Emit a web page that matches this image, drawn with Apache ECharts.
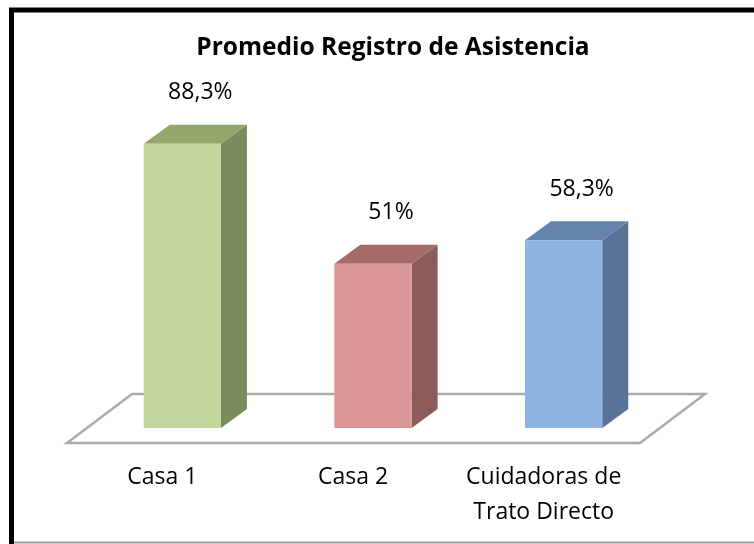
<!DOCTYPE html>
<html>
<head>
<meta charset="utf-8">
<script src="https://cdn.jsdelivr.net/npm/echarts@6/dist/echarts.min.js"></script>
<style>
html, body { margin: 0; padding: 0; background: #fff; }
#chart { width: 754px; height: 544px; }
</style>
</head>
<body>
<div id="chart"></div>
<script>
// datos del grafico
var categorias = ['Casa 1', 'Casa 2', 'Cuidadoras de\nTrato Directo'];
var valores = [88.3, 51, 58.3];
var etiquetas = ['88,3%', '51%', '58,3%'];

var frente = ['#c3d69b', '#d99694', '#8db4e2'];
var lado = ['#7b8b5c', '#8c5c5b', '#587395'];
var techo = ['#93a76b', '#a56b6a', '#6584ad'];

var fuente = 'Open Sans';
var dx = 26, dy = -19; // profundidad de las barras

var myChart = echarts.init(document.getElementById('chart'));

function barra3d(params, api) {
    var idx = params.dataIndex;
    var top = api.coord([api.value(0), api.value(1)]);
    var base = api.coord([api.value(0), 0]);
    var w = api.size([1, 0])[0] * 0.405;
    var l = top[0] - w / 2, r = top[0] + w / 2;
    var yt = top[1], yb = base[1];
    return {
        type: 'group',
        children: [{
            type: 'polygon',
            shape: { points: [[r, yt], [r + dx, yt + dy], [r + dx, yb + dy], [r, yb]] },
            style: { fill: lado[idx] }
        }, {
            type: 'polygon',
            shape: { points: [[l, yt], [l + dx, yt + dy], [r + dx, yt + dy], [r, yt]] },
            style: { fill: techo[idx] }
        }, {
            type: 'rect',
            shape: { x: l, y: yt, width: w, height: yb - yt },
            style: { fill: frente[idx] }
        }, {
            type: 'text',
            x: top[0] + 18,
            y: yt + dy - 32,
            style: {
                text: etiquetas[idx],
                fill: '#000',
                font: '23px "' + fuente + '"',
                align: 'center',
                verticalAlign: 'middle'
            }
        }]
    };
}

function piso(params, api) {
    var cs = params.coordSys;
    var y0 = cs.y + cs.height;
    var x1 = cs.x, x2 = cs.x + cs.width;
    return {
        type: 'polygon',
        shape: { points: [[x1 - 20, y0 + 15], [x1 + 45, y0 - 34], [x2 + 46, y0 - 34], [x2 - 19, y0 + 15]] },
        style: { fill: '#fff', stroke: '#ababab', lineWidth: 2.5 }
    };
}

var option = {
    animation: false,
    title: {
        text: 'Promedio Registro de Asistencia',
        left: 388,
        top: 31,
        textAlign: 'center',
        textStyle: { fontFamily: fuente, fontWeight: 'bold', fontSize: 24.5, color: '#000' }
    },
    grid: { left: 87, right: 95, top: 106, bottom: 116 },
    xAxis: {
        type: 'category',
        data: categorias,
        axisLine: { show: false },
        axisTick: { show: false },
        axisLabel: {
            interval: 0,
            hideOverlap: false,
            margin: 32,
            padding: [0, 40, 0, 0],
            fontFamily: fuente,
            fontSize: 23,
            lineHeight: 35,
            color: '#000'
        }
    },
    yAxis: { type: 'value', min: 0, max: 100, show: false },
    graphic: [{
        type: 'rect',
        shape: { x: 11.5, y: 10, width: 800, height: 600 },
        style: { fill: 'none', stroke: '#000', lineWidth: 5 },
        z: 100
    }, {
        type: 'line',
        shape: { x1: 14, y1: 542.5, x2: 754, y2: 542.5 },
        style: { stroke: '#9a9a9a', lineWidth: 2 },
        z: 100
    }],
    series: [{
        type: 'custom',
        renderItem: piso,
        data: [0],
        z: 1
    }, {
        type: 'custom',
        renderItem: barra3d,
        encode: { x: 0, y: 1 },
        data: valores.map(function (v, i) { return [i, v]; }),
        z: 2
    }]
};

myChart.setOption(option);
</script>
</body>
</html>
